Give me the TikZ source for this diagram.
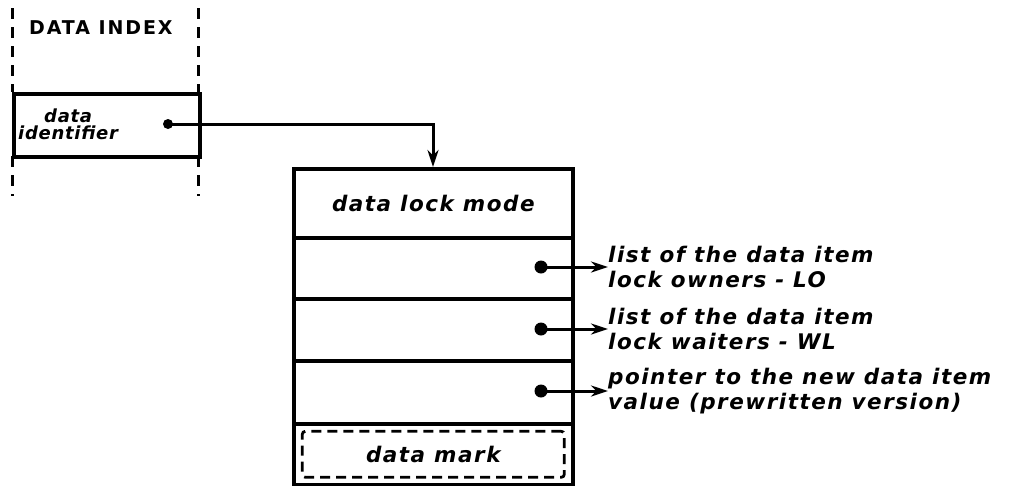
\documentclass[tikz,border=0pt]{standalone}
\usepackage{fontspec}
\newfontfamily\hand[LetterSpace=7]{DejaVu Sans}
\newfontfamily\smallhand[LetterSpace=4]{DejaVu Sans}
\newfontfamily\capsf[LetterSpace=10]{DejaVu Sans}
\usetikzlibrary{arrows.meta,positioning}
\begin{document}
\begin{tikzpicture}[x=1pt,y=-1pt,
  thickbox/.style={draw,line width=3.6pt},
  row/.style={draw,line width=3.6pt,minimum width=279pt,inner sep=0pt,anchor=north west},
  handtxt/.style={font=\hand\bfseries\itshape\fontsize{21.5}{24.5}\selectfont,align=left,inner sep=0pt},
  dashln/.style={line width=3pt,dash pattern=on 11pt off 8pt},
  ptr/.style={line width=3pt,-{Stealth[length=17pt,width=11pt]}},
  dotmark/.style={circle,fill,inner sep=0pt,minimum size=13pt}]
\useasboundingbox (0,0) rectangle (1015,485);
% data index column
\draw[dashln] (12,8) -- (12,92);
\draw[dashln] (198,8) -- (198,92);
\draw[dashln] (12,156) -- (12,196);
\draw[dashln] (198,156) -- (198,196);
\node[font=\capsf\bfseries\fontsize{19}{22}\selectfont,anchor=west,inner sep=0pt] (title) at (29,28) {DATA INDEX};
\node[thickbox,minimum width=186pt,minimum height=63pt,anchor=north west,inner sep=0pt] (ident) at (12,92) {};
\node[font=\smallhand\bfseries\itshape\fontsize{18}{17}\selectfont,align=left,anchor=west,inner sep=0pt] (identtxt) at (18,124) {\hspace*{26pt}data\\identifier};
\node[dotmark,minimum size=10pt] (d0) at (168,124) {};
% main record
\node[row,minimum height=69pt] (r1) at (292,167) {};
\node[row,minimum height=61pt] (r2) at (292,236) {};
\node[row,minimum height=62pt] (r3) at (292,297) {};
\node[row,minimum height=63pt] (r4) at (292,359) {};
\node[row,minimum height=61pt] (r5) at (292,422) {};
\node[handtxt] (lockmode) at (r1.center) {data lock mode};
\node[draw,line width=2.8pt,dash pattern=on 10pt off 6pt,rounded corners=3pt,minimum width=262pt,minimum height=46pt,inner sep=0pt] (markbox) at (r5.center) {};
\node[handtxt] (marktxt) at (r5.center) {data mark};
% connector from identifier
\coordinate (bend) at (433,124);
\draw[ptr] (d0.center) -- (bend) -- (r1.north -| bend);
% pointers
\node[dotmark] (d1) at (541,267) {};
\node[dotmark] (d2) at (541,329) {};
\node[dotmark] (d3) at (541,391) {};
\node[handtxt,anchor=west] (l1) at (608,267) {list of the data item\\lock owners - LO};
\node[handtxt,anchor=west] (l2) at (608,329) {list of the data item\\lock waiters - WL};
\node[handtxt,anchor=west] (l3) at (608,391) {pointer to the new data item\\value (prewritten version)};
\draw[ptr] (d1.center) -- (l1.west);
\draw[ptr] (d2.center) -- (l2.west);
\draw[ptr] (d3.center) -- (l3.west);
\end{tikzpicture}
\end{document}
